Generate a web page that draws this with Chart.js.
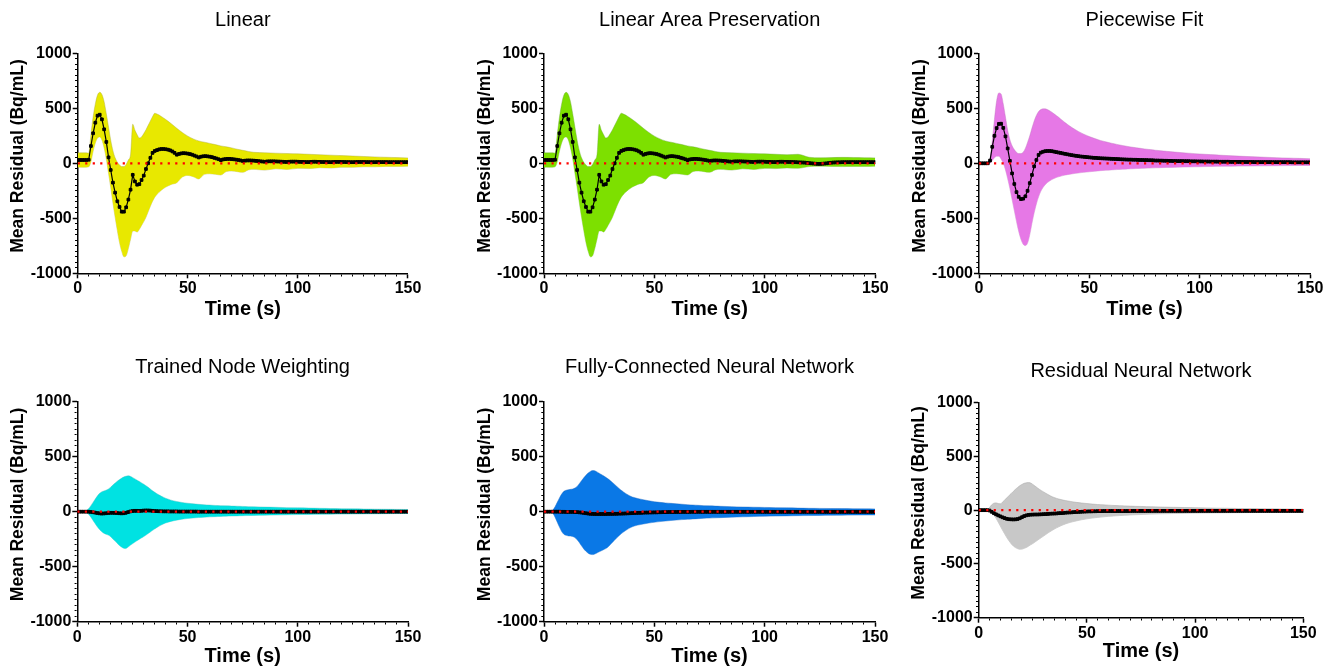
<!DOCTYPE html>
<html><head><meta charset="utf-8">
<script src="https://cdn.jsdelivr.net/npm/chart.js@4.4.1/dist/chart.umd.min.js"></script>
<style>
html,body{margin:0;padding:0;background:#fff;width:1339px;height:671px;overflow:hidden}
canvas.c{position:absolute;left:0;top:0}
</style></head>
<body>
<canvas id="c0" class="c" width="1339" height="671"></canvas>
<canvas id="c1" class="c" width="1339" height="671"></canvas>
<canvas id="c2" class="c" width="1339" height="671"></canvas>
<canvas id="c3" class="c" width="1339" height="671"></canvas>
<canvas id="c4" class="c" width="1339" height="671"></canvas>
<canvas id="c5" class="c" width="1339" height="671"></canvas>
<script>
// ---------------- DATA ----------------
const titles = ["Linear","Linear Area Preservation","Piecewise Fit","Trained Node Weighting","Fully-Connected Neural Network","Residual Neural Network"];
const xTickLabels = [0,50,100,150];
const yTickLabels = [-1000,-500,0,500,1000];
const zeroX = [0,150];
const zeroY = [0,0];

const time = [0,1,2,3,4,5,6,7,8,9,10,11,12,13,14,15,16,17,18,19,20,21,22,23,24,25,26,27,28,29,30,31,32,33,34,35,36,37,38,39,40,41,42,43,44,45,46,47,48,49,50,51,52,53,54,55,56,57,58,59,60,61,62,63,64,65,66,67,68,69,70,71,72,73,74,75,76,77,78,79,80,81,82,83,84,85,86,87,88,89,90,91,92,93,94,95,96,97,98,99,100,101,102,103,104,105,106,107,108,109,110,111,112,113,114,115,116,117,118,119,120,121,122,123,124,125,126,127,128,129,130,131,132,133,134,135,136,137,138,139,140,141,142,143,144,145,146,147,148,149,150];

const bandTime = [0,1,2,3,4,5,6,7,8,9,10,11,12,13,14,15,16,17,18,19,20,21,22,23,24,25,26,27,28,29,30,31,32,33,34,35,36,37,38,39,40,42.5,45,47.5,50,52.5,55,57.5,60,62.5,65,67.5,70,72.5,75,77.5,80,85,90,95,100,105,110,115,120,125,130,135,140,145,150];

// Linear
const meanLinear = [30,30,30,30,30,32,157,273,369,433,
442,400,309,194,54,-61,-176,-267,-345,-397,
-440,-440,-400,-330,-240,-105,-165,-195,-190,-152,
-112,-52,0,50,95,112,120,127,130,130,
128,124,118,108,95,78,85,90,92,91,
88,84,78,70,62,53,60,64,65,63,
60,56,50,44,37,29,35,38,40,40,
38,36,33,30,26,21,24,26,26,25,
24,22,20,18,16,14,17,18,18,18,
17,16,15,14,13,12,14,15,15,15,
14,13,13,12,11,11,13,14,14,13,
13,12,12,11,11,10,12,13,13,13,
12,12,11,11,10,10,11,12,12,12,
12,11,11,10,10,10,11,11,11,11,
11,10,10,10,10,10,10,10,10,10,
10];
const upperLinear = [95,95,95,95,95,92,
260,420,540,620,645,
625,560,450,330,210,
115,50,10,-15,-30,
-30,-10,30,80,355,
300,260,230,240,270,
305,345,385,425,455,
448,438,425,412,398,
360,318,280,247,222,203,192,181,170,158,150,140,128,118,108,100,
96,92,89,86,82,78,74,70,66,62,58,55,52,49];
const lowerLinear = [-35,-35,-36,-36,-35,-32,
15,110,185,230,240,
212,140,40,-90,-220,
-360,-490,-610,-720,-800,
-850,-840,-775,-690,-615,
-615,-625,-600,-565,-530,
-490,-440,-390,-345,-308,
-283,-262,-244,-229,-216,
-192,-176,-125,-110,-122,-142,-100,-95,-100,-106,-75,-70,-76,-82,-60,-55,
-62,-50,-56,-46,-48,-40,-43,-36,-36,-31,-32,-28,-28,-26];

// Linear Area Preservation
const meanLAP = [30,30,30,30,30,32,157,273,369,433,
442,400,309,194,54,-61,-176,-267,-345,-397,
-440,-440,-400,-330,-240,-105,-165,-195,-190,-152,
-112,-52,0,50,95,112,120,127,130,130,
128,124,118,108,95,78,85,90,92,91,
88,84,78,70,62,53,60,64,65,63,
60,56,50,44,37,29,35,38,40,40,
38,36,33,30,26,21,24,26,26,25,
24,22,20,18,16,14,17,18,18,18,
17,16,15,14,13,12,14,15,15,15,
14,13,13,12,11,11,13,14,14,13,
13,12,12,11,10,9,8,7,6,4,
2,0,-2,-4,-5,-5,-4,-2,0,3,
5,7,8,9,9,10,10,10,10,10,
10,10,10,10,10,10,10,10,10,10,
10];
const upperLAP = [95,95,95,95,95,92,
260,420,540,620,645,
625,560,450,330,210,
115,50,10,-15,-30,
-30,-10,30,80,355,
300,260,230,240,270,
305,345,385,425,455,
448,438,425,412,398,
360,318,280,247,222,203,192,181,170,158,150,140,128,118,108,100,
96,92,89,86,82,78,82,55,50,52,54,53,51,49];
const lowerLAP = [-35,-35,-36,-36,-35,-32,
15,110,185,230,240,
212,140,40,-90,-220,
-360,-490,-610,-720,-800,
-850,-840,-775,-690,-615,
-615,-625,-600,-565,-530,
-490,-440,-390,-345,-308,
-283,-262,-244,-229,-216,
-192,-176,-125,-110,-122,-142,-100,-95,-100,-106,-75,-70,-76,-82,-60,-55,
-62,-50,-56,-46,-48,-42,-45,-30,-26,-28,-30,-28,-28,-26];

// Piecewise Fit
const meanPW = [0,0,0,0,0,25,150,250,320,358,
360,322,245,135,22,-92,-188,-262,-305,-325,
-322,-300,-250,-180,-106,-28,30,76,97,105,
110,112,112,110,106,102,98,94,90,86,
82,78,74,71,68,65,62,60,58,56,
54,52,50,49,47,46,45,44,43,42,
41,40,39,38,37,36,35,34,33,33,
32,32,31,30,30,29,29,28,28,27,
25,25,24,24,23,23,22,22,21,21,
20,20,20,19,19,19,18,18,18,17,
17,17,16,16,16,15,15,15,15,14,
14,14,14,14,13,13,13,13,13,12,
12,12,12,12,12,11,11,11,11,11,
11,11,11,10,10,10,10,10,10,10,
10,10,9,9,9,9,9,9,9,9,
9];
const upperPW = [5,5,5,5,8,40,
200,400,570,640,630,
540,420,300,215,160,
125,100,88,88,100,
135,190,250,320,385,
435,470,488,495,495,
488,478,465,450,435,
420,403,387,370,355,
320,290,265,243,225,208,195,183,172,162,153,145,138,131,125,119,
109,100,92,85,79,73,68,63,59,55,51,48,45,42];
const lowerPW = [-8,-8,-8,-8,-8,0,
25,50,65,65,40,
0,-60,-140,-230,-330,
-430,-530,-620,-690,-735,
-748,-725,-650,-545,-450,
-370,-305,-255,-220,-195,
-175,-160,-148,-138,-130,
-123,-117,-112,-107,-103,
-95,-88,-82,-77,-72,-67,-63,-60,-57,-54,-51,-49,-47,-45,-43,-41,
-38,-35,-33,-31,-29,-27,-26,-25,-24,-23,-22,-21,-20,-20];

// Trained Node Weighting
const meanTNW = [0,0,0,0,0,0,-2,-5,-8,-12,
-15,-17,-16,-14,-12,-10,-10,-11,-12,-14,
-15,-14,-10,-4,2,6,8,8,7,8,
10,11,11,10,8,6,5,4,4,3,
3,3,2,2,2,2,1,1,1,1,
1,1,1,1,1,0,0,0,0,0,
0,0,0,0,0,0,0,0,0,0,
0,0,0,0,0,0,0,0,0,0,
0,0,0,0,0,0,0,0,0,0,
0,0,0,0,0,0,0,0,0,0,
0,0,0,0,0,0,0,0,0,0,
0,0,0,0,0,0,0,0,0,0,
0,0,0,0,0,0,0,0,0,0,
0,0,0,0,0,0,0,0,0,0,
0,0,0,0,0,0,0,0,0,0,
0];
const upperTNW = [0,0,0,2,10,25,
50,80,110,140,165,
180,188,195,205,220,
240,258,275,290,303,
315,322,326,322,312,
300,288,276,264,252,
238,224,208,192,178,
165,153,142,132,123,
105,93,84,77,72,67,63,60,57,55,53,51,50,48,46,45,
42,40,37,35,33,31,29,27,26,24,23,22,21,20];
const lowerTNW = [0,0,0,-2,-8,-20,
-45,-75,-105,-135,-160,
-180,-195,-205,-212,-225,
-245,-265,-285,-305,-320,
-332,-335,-322,-306,-292,
-278,-265,-252,-240,-228,
-215,-200,-186,-172,-158,
-145,-133,-122,-112,-103,
-88,-77,-68,-62,-57,-53,-50,-47,-45,-43,-41,-39,-38,-36,-35,-34,
-32,-30,-28,-26,-25,-24,-23,-22,-21,-20,-19,-18,-17,-16];

// Fully-Connected Neural Network
const meanFCNN = [0,0,0,0,0,0,0,0,-1,-1,
-2,-2,-2,-2,-3,-4,-6,-8,-11,-14,
-17,-19,-20,-21,-21,-21,-21,-21,-21,-20,
-20,-20,-19,-19,-18,-18,-17,-16,-15,-14,
-13,-12,-11,-10,-10,-9,-8,-8,-7,-7,
-6,-6,-5,-5,-4,-4,-4,-3,-3,-3,
-3,-2,-2,-2,-2,-2,-2,-1,-1,-1,
-1,-1,-1,-1,-1,-1,-1,-1,-1,-1,
-1,-1,-1,-1,-1,-1,-1,-1,-1,-1,
-1,-1,-1,-1,-1,-1,-1,-1,-1,-1,
-1,-1,-1,-1,-1,-1,-1,-1,-1,-1,
-1,-1,-1,-1,-1,-1,-1,-1,-1,-1,
-1,-1,-1,-1,-1,-1,-1,-1,-1,-1,
-1,-1,-1,-1,-1,-1,-1,-1,-1,-1,
-1,-1,-1,-1,-1,-1,-1,-1,-1,-1,
-1];
const upperFCNN = [0,0,0,2,15,45,
85,125,160,185,195,
200,203,207,215,230,
255,282,308,332,352,
366,374,372,362,350,
338,326,313,299,283,
266,248,230,212,195,
180,166,154,143,134,
120,109,99,91,85,80,76,72,68,64,61,58,55,53,51,49,
46,43,41,39,37,35,33,31,30,29,28,27,26,25];
const lowerFCNN = [0,0,0,-2,-15,-50,
-95,-140,-180,-205,-215,
-220,-222,-226,-235,-255,
-280,-310,-338,-360,-377,
-387,-390,-385,-375,-365,
-355,-345,-335,-320,-300,
-280,-258,-237,-218,-200,
-185,-171,-158,-147,-137,
-122,-112,-103,-96,-90,-85,-80,-76,-72,-69,-66,-63,-60,-58,-56,-54,
-50,-47,-44,-42,-40,-38,-36,-35,-34,-33,-32,-31,-30,-30];

// Residual Neural Network
const meanRNN = [0,0,0,0,0,-3,-15,-28,-38,-48,
-57,-66,-74,-80,-84,-85,-86,-85,-82,-75,
-65,-55,-48,-44,-42,-41,-40,-40,-39,-38,
-37,-36,-35,-33,-32,-31,-30,-28,-27,-26,
-24,-22,-21,-20,-18,-17,-16,-15,-14,-13,
-12,-11,-11,-10,-10,-9,-9,-9,-8,-8,
-8,-8,-8,-8,-8,-8,-8,-8,-8,-8,
-7,-7,-7,-7,-7,-7,-7,-7,-7,-7,
-6,-6,-6,-6,-6,-6,-6,-6,-6,-6,
-6,-6,-6,-6,-6,-6,-6,-6,-6,-6,
-6,-6,-6,-6,-6,-6,-6,-6,-6,-6,
-6,-6,-6,-6,-6,-6,-6,-6,-6,-6,
-6,-6,-6,-6,-6,-6,-6,-6,-6,-6,
-6,-6,-6,-6,-6,-6,-6,-6,-6,-6,
-6,-6,-6,-6,-6,-6,-6,-6,-6,-6,
-6];
const upperRNN = [0,0,0,0,5,25,
50,65,68,62,60,
75,95,115,135,155,
175,195,212,228,240,
250,255,257,253,240,
225,210,195,182,170,
158,146,135,125,117,
110,104,99,94,90,
81,73,67,62,57,53,50,47,44,42,40,38,36,35,33,32,
29,27,25,23,21,19,18,16,15,14,13,12,11,10];
const lowerRNN = [0,0,0,0,-3,-10,
-25,-45,-75,-110,-148,
-185,-220,-255,-285,-312,
-333,-348,-358,-363,-362,
-355,-347,-335,-322,-310,
-296,-282,-268,-254,-240,
-226,-212,-199,-187,-175,
-164,-154,-145,-136,-128,
-112,-100,-89,-80,-73,-67,-62,-57,-53,-50,-47,-44,-42,-40,-38,-36,
-33,-31,-29,-27,-26,-25,-24,-23,-22,-21,-21,-20,-20,-20];

// ---------------- STYLE / LAYOUT ----------------
const means = [meanLinear, meanLAP, meanPW, meanTNW, meanFCNN, meanRNN];
const uppers = [upperLinear, upperLAP, upperPW, upperTNW, upperFCNN, upperRNN];
const lowers = [lowerLinear, lowerLAP, lowerPW, lowerTNW, lowerFCNN, lowerRNN];
const fills = ['rgb(232,232,0)','rgb(125,224,0)','rgb(230,120,230)','rgb(0,226,226)','rgb(10,120,230)','rgb(200,200,200)'];
const edges = ['rgba(170,170,60,0.7)','rgba(110,170,60,0.7)','rgba(190,120,190,0.7)','rgba(60,190,190,0.7)','rgba(30,100,190,0.7)','rgba(170,170,170,0.9)'];
// plot-area boxes: left, right, top, bottom, title centre y, x-title centre y, top of title box
const geo = [
  {L:77.7, R:408,   T:53.3,  B:273.3, tc:20.8,  xt:309,   top:0},
  {L:544,  R:875.3, T:53.3,  B:273.3, tc:20.8,  xt:309,   top:0},
  {L:979,  R:1310,  T:53.3,  B:273.3, tc:20.8,  xt:309,   top:0},
  {L:77.3, R:408,   T:401.7, B:621.7, tc:367.5, xt:656.3, top:330},
  {L:544,  R:875,   T:401.7, B:621.7, tc:367.5, xt:656.3, top:330},
  {L:978.7,R:1303.3,T:402.7, B:617.7, tc:371.2, xt:651.7, top:330}
];
const FAM = "'Liberation Sans', Arial, Helvetica, sans-serif";
const W = 1339, Hh = 671, YW = 69.8, TLH = 24;

function pts(xs, ys){ return xs.map((x,k)=>({x:x, y:ys[k]})); }

for (let i=0;i<6;i++){
  const g = geo[i];
  const padTop = g.tc - g.top - TLH/2;
  const padBot = g.T - g.top - padTop - TLH;
  const xH = g.xt + 12 - g.B;
  const isMajX = c => c.tick && xTickLabels.includes(c.tick.value);
  const isMajY = c => c.tick && yTickLabels.includes(c.tick.value);
  new Chart(document.getElementById('c'+i), {
    type:'line',
    data:{datasets:[
      {data:pts(zeroX,zeroY), borderColor:'#ff0000', borderWidth:2.2, borderDash:[2.2,5.3], pointRadius:0, fill:false},
      {data:pts(time,means[i]), borderColor:'#000', borderWidth:1.2, pointStyle:'rect', pointRadius:1.9,
       pointBackgroundColor:'#000', pointBorderColor:'#000', pointBorderWidth:1, fill:false},
      {data:pts(bandTime,uppers[i]), borderColor:edges[i], borderWidth:0.6, pointRadius:0, fill:'+1',
       backgroundColor:fills[i], cubicInterpolationMode:'monotone'},
      {data:pts(bandTime,lowers[i]), borderColor:edges[i], borderWidth:0.6, pointRadius:0, fill:false,
       cubicInterpolationMode:'monotone'}
    ]},
    options:{
      responsive:false, animation:false, events:[],
      layout:{padding:{left:g.L-YW, right:W-g.R, top:g.top, bottom:Hh-g.B-xH}},
      plugins:{
        legend:{display:false}, tooltip:{enabled:false},
        title:{display:true, text:titles[i], fullSize:false, color:'#000',
          font:{family:FAM, size:20, weight:'normal', lineHeight:1.2},
          padding:{top:padTop, bottom:padBot}}
      },
      scales:{
        x:{type:'linear', position:'bottom', min:0, max:150,
          afterFit:s=>{s.height=xH; s.paddingLeft=0; s.paddingRight=0;},
          border:{display:true, color:'#000', width:1.5},
          grid:{drawOnChartArea:false, drawTicks:true, tickLength:5, tickColor:'#000',
            tickWidth:c=>isMajX(c)?1.5:1,
            tickBorderDash:c=>isMajX(c)?[]:[2,20]},
          ticks:{stepSize:5, autoSkip:false, maxRotation:0, minRotation:0, padding:1, color:'#000',
            font:{family:FAM, size:16, weight:'bold'},
            callback:v=>xTickLabels.includes(v)?String(v):''},
          title:{display:true, text:'Time (s)', color:'#000', padding:0,
            font:{family:FAM, size:20, weight:'bold', lineHeight:1.2}}
        },
        y:{type:'linear', position:'left', min:-1000, max:1000,
          afterFit:s=>{s.width=YW; s.paddingTop=0; s.paddingBottom=0;},
          border:{display:true, color:'#000', width:1.5},
          grid:{drawOnChartArea:false, drawTicks:true, tickLength:5, tickColor:'#000',
            tickWidth:c=>isMajY(c)?1.5:1,
            tickBorderDash:c=>isMajY(c)?[]:[0,2.3,2,20]},
          ticks:{stepSize:50, autoSkip:false, padding:1, color:'#000',
            font:{family:FAM, size:16, weight:'bold'},
            callback:v=>yTickLabels.includes(v)?String(v):''},
          title:{display:true, text:'   Mean Residual (Bq/mL)', color:'#000', padding:0,
            font:{family:FAM, size:17.5, weight:'bold', lineHeight:1.2}}
        }
      }
    }
  });
}
</script>
</body></html>
